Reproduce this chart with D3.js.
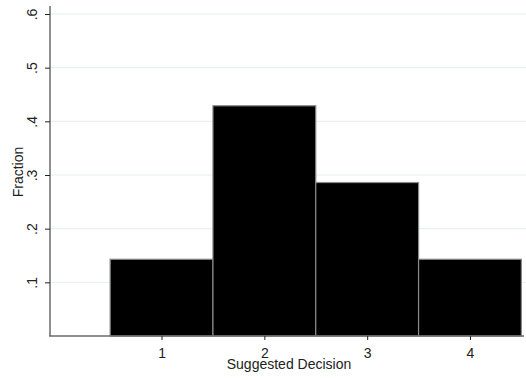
<!DOCTYPE html>
<html>
<head>
<meta charset="utf-8">
<script src="https://cdn.jsdelivr.net/npm/d3@7"></script>
<style>
  body { margin: 0; background: #fff; }
  svg { display: block; font-family: "Liberation Sans", Arial, sans-serif; }
</style>
</head>
<body>
<svg id="chart" width="526" height="380"></svg>
<script>
// data
const categories = [1, 2, 3, 4];
const fractions = [0.143, 0.429, 0.286, 0.143];
const yTicks = [0.1, 0.2, 0.3, 0.4, 0.5, 0.6];
const yTickLabels = [".1", ".2", ".3", ".4", ".5", ".6"];

const svg = d3.select("#chart");
const axisColor = "#6b6b6b";
const fontSize = 14;

const x = d3.scaleLinear()
    .domain([-0.085, 4.545])
    .range([50, 526]);

const y = d3.scaleLinear()
    .domain([0, 0.6])
    .range([336, 14]);

// gridlines
svg.append("g")
    .selectAll("line")
    .data(yTicks)
    .join("line")
        .attr("x1", 50)
        .attr("x2", 526)
        .attr("y1", d => y(d))
        .attr("y2", d => y(d))
        .attr("stroke", "#e6eeee")
        .attr("stroke-width", 1);

// bars
svg.append("g")
    .selectAll("rect")
    .data(categories)
    .join("rect")
        .attr("x", (d, i) => x(d - 0.5))
        .attr("y", (d, i) => y(fractions[i]))
        .attr("width", x(1) - x(0))
        .attr("height", (d, i) => y(0) - y(fractions[i]))
        .attr("fill", "#000")
        .attr("stroke", "#8a8a8a")
        .attr("stroke-width", 1.2);

// y axis
const yAxis = svg.append("g")
    .attr("transform", "translate(50,0)")
    .call(d3.axisLeft(y).tickValues(yTicks).tickSize(5)
        .tickFormat((d, i) => yTickLabels[i]));
yAxis.select(".domain")
    .attr("d", "M0,6V336")
    .attr("stroke", axisColor)
    .attr("stroke-width", 1.5);
yAxis.selectAll(".tick line").attr("stroke", "#222");
yAxis.selectAll(".tick text")
    .attr("x", 0)
    .attr("y", 0)
    .attr("dy", 0)
    .attr("transform", "translate(-13,0) rotate(-90)")
    .attr("text-anchor", "middle")
    .attr("font-size", fontSize)
    .attr("font-family", "Liberation Sans, Arial, sans-serif")
    .attr("fill", "#222");

// x axis
const xAxis = svg.append("g")
    .attr("transform", "translate(0,336)")
    .call(d3.axisBottom(x).tickValues(categories).tickSize(4).tickFormat(d3.format("d")));
xAxis.select(".domain")
    .attr("d", "M49,0H524")
    .attr("stroke", axisColor)
    .attr("stroke-width", 1.5);
xAxis.selectAll(".tick line").attr("stroke", "#222");
xAxis.selectAll(".tick text")
    .attr("y", 22)
    .attr("dy", 0)
    .attr("font-size", fontSize)
    .attr("font-family", "Liberation Sans, Arial, sans-serif")
    .attr("fill", "#222");

// axis titles
svg.append("text")
    .attr("x", 289)
    .attr("y", 369)
    .attr("text-anchor", "middle")
    .attr("font-size", fontSize)
    .attr("fill", "#222")
    .text("Suggested Decision");

svg.append("text")
    .attr("transform", "translate(23,172) rotate(-90)")
    .attr("text-anchor", "middle")
    .attr("font-size", fontSize)
    .attr("fill", "#222")
    .text("Fraction");
</script>
</body>
</html>
